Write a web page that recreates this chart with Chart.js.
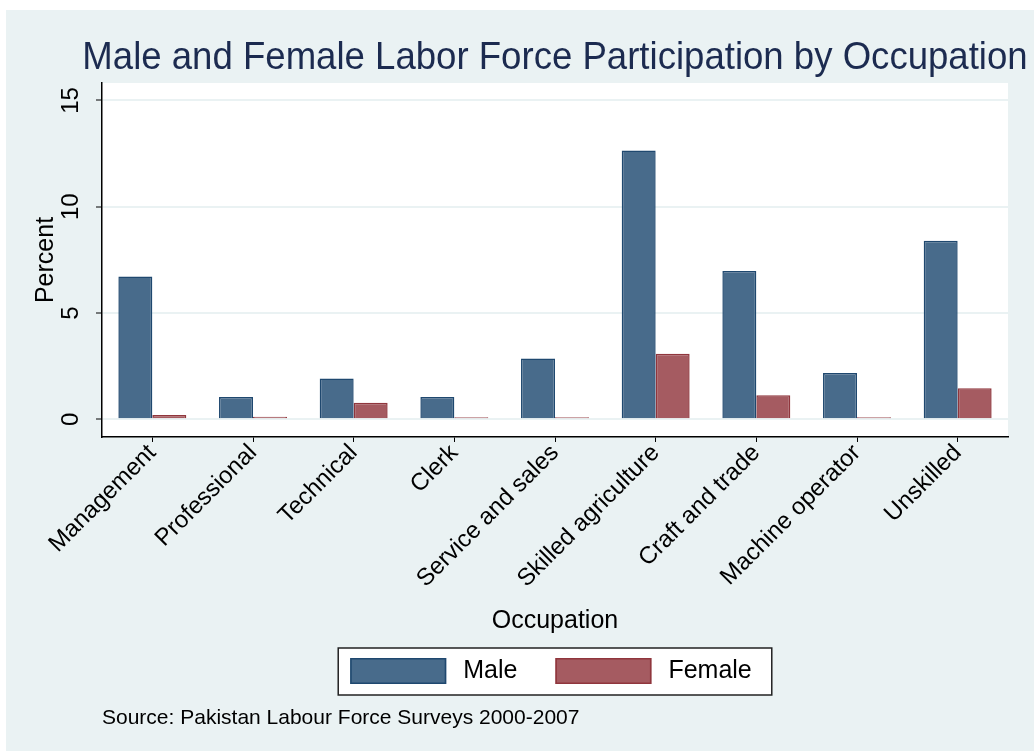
<!DOCTYPE html>
<html lang="en">
<head>
    <meta charset="UTF-8" />
    <title>Male and Female Labor Force Participation by Occupation</title>
    <style>
        html, body {
            margin: 0;
            padding: 0;
            background: #fff;
        }
        canvas {
            display: block;
        }
    </style>
</head>
<body>
    <canvas id="occChart" width="1034" height="751"></canvas>

    <script src="https://cdn.jsdelivr.net/npm/chart.js@4.4.1/dist/chart.umd.min.js"></script>
    <script>
        // data
        const occupations = ['Management', 'Professional', 'Technical', 'Clerk', 'Service and sales',
            'Skilled agriculture', 'Craft and trade', 'Machine operator', 'Unskilled'];
        const maleValues = [6.72, 1.05, 1.92, 1.05, 2.86, 12.64, 6.98, 2.18, 8.40];
        const femaleValues = [0.20, 0.12, 0.78, 0.06, 0.07, 3.08, 1.13, 0.07, 1.46];
        const yTicks = [0, 5, 10, 15];
        const seriesNames = ['Male', 'Female'];
        const chartTitle = 'Male and Female Labor Force Participation by Occupation';
        const sourceNote = 'Source: Pakistan Labour Force Surveys 2000-2007';

        const FONT = '"Liberation Sans", Arial, sans-serif';
        const BG = '#eaf2f3';

        // outer grey-blue region + white plot area
        const backdrop = {
            id: 'backdrop',
            beforeDraw(chart) {
                const { ctx, chartArea: a } = chart;
                ctx.save();
                ctx.fillStyle = '#fff';
                ctx.fillRect(0, 0, chart.width, chart.height);
                ctx.fillStyle = BG;
                ctx.fillRect(6, 10, chart.width - 6, chart.height - 10);
                ctx.fillStyle = '#fff';
                ctx.fillRect(a.left, a.top, a.right - a.left, a.bottom - a.top);
                ctx.restore();
            }
        };

        // title is a bit condensed in the original, draw it ourselves (built-in one squeezes to the plot width)
        const bigTitle = {
            id: 'bigTitle',
            afterDraw(chart) {
                const ctx = chart.ctx;
                const a = chart.chartArea;
                ctx.save();
                ctx.translate((a.left + a.right) / 2, a.top - 14);
                ctx.scale(0.95, 1);
                ctx.font = '38.5px ' + FONT;
                ctx.fillStyle = '#1c2b50';
                ctx.textAlign = 'center';
                ctx.textBaseline = 'alphabetic';
                ctx.fillText(chartTitle, 0, 0);
                ctx.restore();
            }
        };

        // y tick labels are rotated like in the original
        const verticalTicks = {
            id: 'verticalTicks',
            afterDraw(chart) {
                const ctx = chart.ctx;
                const y = chart.scales.y;
                ctx.save();
                ctx.font = '24px ' + FONT;
                ctx.fillStyle = '#000';
                ctx.textAlign = 'center';
                ctx.textBaseline = 'middle';
                y.ticks.forEach(t => {
                    ctx.save();
                    ctx.translate(chart.chartArea.left - 31, y.getPixelForValue(t.value));
                    ctx.rotate(-Math.PI / 2);
                    ctx.fillText(String(t.value), 0, 0);
                    ctx.restore();
                });
                ctx.restore();
            }
        };

        // boxed legend under the axis title
        const boxLegend = {
            id: 'boxLegend',
            afterDraw(chart) {
                const ctx = chart.ctx;
                const a = chart.chartArea;
                const top = chart.scales.x.bottom + 8;
                const swW = 96, swH = 26, padX = 12, gap = 17, itemGap = 38, padR = 20;
                ctx.save();
                ctx.font = '25px ' + FONT;
                const items = chart.data.datasets.map(ds => ({
                    ds, w: ctx.measureText(ds.label).width
                }));
                let total = padX + padR;
                items.forEach((it, i) => {
                    total += swW + gap + it.w + (i > 0 ? itemGap : 0);
                });
                const left = (a.left + a.right) / 2 - total / 2;
                ctx.fillStyle = '#fff';
                ctx.fillRect(left, top, total, 47);
                ctx.strokeStyle = '#222';
                ctx.lineWidth = 1.5;
                ctx.strokeRect(left, top, total, 47);

                let x = left + padX;
                const sy = top + 10;
                items.forEach((it, i) => {
                    if (i > 0) x += itemGap;
                    ctx.fillStyle = it.ds.backgroundColor;
                    ctx.fillRect(x, sy, swW, swH);
                    ctx.strokeStyle = it.ds.borderColor;
                    ctx.lineWidth = 1.5;
                    ctx.strokeRect(x + 0.75, sy + 0.75, swW - 1.5, swH - 1.5);
                    x += swW + gap;
                    ctx.fillStyle = '#000';
                    ctx.textAlign = 'left';
                    ctx.textBaseline = 'middle';
                    ctx.fillText(it.ds.label, x, sy + swH / 2);
                    x += it.w;
                });
                ctx.restore();
            }
        };

        const ctx = document.getElementById('occChart').getContext('2d');
        const chart = new Chart(ctx, {
            type: 'bar',
            data: {
                labels: occupations,
                datasets: [{
                    label: seriesNames[0],
                    data: maleValues,
                    backgroundColor: '#486b8b',
                    borderColor: '#1f486f',
                    borderWidth: 1.5,
                    categoryPercentage: 0.675,
                    barPercentage: 1.0
                }, {
                    label: seriesNames[1],
                    data: femaleValues,
                    backgroundColor: '#a55b61',
                    borderColor: '#90363d',
                    borderWidth: 1.5,
                    minBarLength: 2,
                    categoryPercentage: 0.675,
                    barPercentage: 1.0
                }]
            },
            options: {
                responsive: false,
                animation: false,
                devicePixelRatio: 1,
                layout: {
                    padding: { left: 0, right: 26, top: 83, bottom: 0 }
                },
                scales: {
                    x: {
                        grid: {
                            display: true,
                            drawOnChartArea: false,
                            drawTicks: true,
                            tickLength: 5,
                            tickColor: '#000',
                            offset: false
                        },
                        border: { display: true, color: '#000', width: 1.5 },
                        ticks: {
                            color: '#000',
                            font: { size: 24, family: FONT },
                            minRotation: 45,
                            maxRotation: 45,
                            autoSkip: false,
                            padding: -3
                        },
                        title: {
                            display: true,
                            text: 'Occupation',
                            color: '#000',
                            font: { size: 25, family: FONT },
                            padding: { top: 15.7, bottom: 4 }
                        }
                    },
                    y: {
                        min: -0.83,
                        max: 15.82,
                        afterBuildTicks: s => { s.ticks = yTicks.map(v => ({ value: v })); },
                        ticks: { display: false },
                        grid: {
                            color: BG,
                            lineWidth: 2,
                            tickLength: 6,
                            tickColor: '#000',
                            tickWidth: 1
                        },
                        border: { display: true, color: '#000', width: 1.5 },
                        title: {
                            display: true,
                            text: 'Percent',
                            color: '#000',
                            font: { size: 25, family: FONT },
                            padding: { top: 31, bottom: 35 }
                        }
                    }
                },
                plugins: {
                    legend: { display: false },
                    tooltip: { enabled: false },
                    title: { display: false },
                    subtitle: {
                        display: true,
                        text: sourceNote,
                        position: 'bottom',
                        align: 'start',
                        fullSize: false,
                        color: '#000',
                        font: { size: 21, family: FONT },
                        padding: { top: 65.4, bottom: 20.4 }
                    }
                }
            },
            plugins: [backdrop, bigTitle, verticalTicks, boxLegend]
        });
    </script>
</body>
</html>
